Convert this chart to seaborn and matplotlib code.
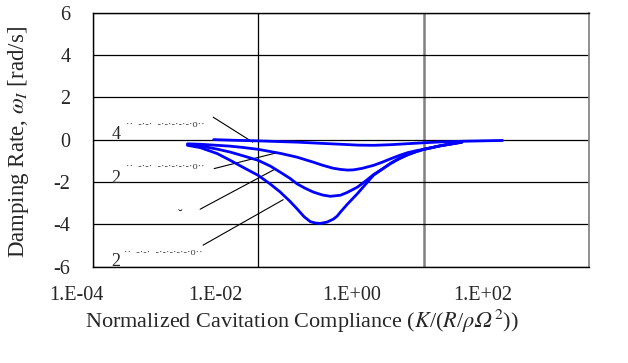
import numpy as np
import pandas as pd
import matplotlib
matplotlib.use("Agg")
import matplotlib.pyplot as plt
import seaborn as sns

# Damping rate curves vs. normalized cavitation compliance
xa = [2.9e-3, 5e-3, 1e-2, 0.0295, 0.06, 0.1, 0.16, 0.25, 0.4, 0.6, 1.0, 1.6, 2.8, 5.0, 9.0]
ya = [0.0, -0.03, -0.06, -0.12, -0.18, -0.22, -0.26, -0.27, -0.24, -0.2, -0.15, -0.11, -0.08, -0.06, -0.04]

xb = [1.4e-3, 2e-3, 3.2e-3, 4.6e-3, 6.5e-3, 1e-2, 0.0185, 0.0295, 0.045, 0.061, 0.08, 0.099, 0.12,
      0.142, 0.18, 0.247, 0.32, 0.397, 0.5, 0.638, 0.8, 1.0, 1.25, 1.6, 2.2, 2.9]
yb = [-0.2, -0.22, -0.27, -0.31, -0.37, -0.46, -0.65, -0.83, -1.05, -1.22, -1.35, -1.41, -1.44,
      -1.43, -1.36, -1.22, -1.06, -0.91, -0.76, -0.62, -0.53, -0.46, -0.38, -0.29, -0.2, -0.12]

xc = [1.4e-3, 2e-3, 3.2e-3, 4.6e-3, 6.5e-3, 1e-2, 0.014, 0.0185, 0.024, 0.0295, 0.037, 0.0464, 0.06,
      0.0746, 0.0986, 0.119, 0.158, 0.2, 0.247, 0.32, 0.397, 0.5, 0.638, 0.8, 1.0, 1.25, 1.6, 2.2, 2.9]
yc = [-0.24, -0.3, -0.45, -0.59, -0.76, -0.98, -1.25, -1.54, -1.82, -2.09, -2.3, -2.48, -2.62,
      -2.68, -2.63, -2.5, -2.25, -1.95, -1.66, -1.38, -1.14, -0.92, -0.72, -0.58, -0.46, -0.38, -0.29, -0.2, -0.12]

xd = [1.4e-3, 2e-3, 3.2e-3, 4.6e-3, 6.5e-3, 1e-2, 0.014, 0.0185, 0.024, 0.0295, 0.036, 0.0428, 0.05,
      0.0565, 0.068, 0.081, 0.09, 0.0986, 0.12, 0.158, 0.2, 0.247, 0.32, 0.397, 0.5, 0.638, 0.8, 1.0,
      1.25, 1.6, 2.2, 2.9]
yd = [-0.27, -0.38, -0.66, -0.98, -1.3, -1.69, -2.1, -2.48, -2.9, -3.27, -3.65, -3.88, -3.95,
      -3.96, -3.9, -3.76, -3.62, -3.43, -3.05, -2.56, -2.1, -1.69, -1.38, -1.12, -0.9, -0.72, -0.58, -0.46,
      -0.38, -0.29, -0.2, -0.12]

x_tick_vals = [1e-4, 1e-2, 1e0, 1e2]
x_tick_labels = ["1.E-04", "1.E-02", "1.E+00", "1.E+02"]
y_ticks = [-6, -4, -2, 0, 2, 4, 6]

frames = []
for name, xs, ys in [("a", xa, ya), ("b", xb, yb), ("c", xc, yc), ("d", xd, yd)]:
    frames.append(pd.DataFrame({"K": xs, "w": ys, "mode": name}))
df = pd.concat(frames, ignore_index=True)

sns.set_style("white")
plt.rcParams["font.family"] = ["Liberation Serif", "DejaVu Serif"]
plt.rcParams["mathtext.fontset"] = "stix"

fig = plt.figure(figsize=(6.28, 3.63), dpi=100)
ax = fig.add_axes([0.1476, 0.2658, 0.7904, 0.6992])

sns.lineplot(data=df, x="K", y="w", hue="mode", units="mode", estimator=None,
             sort=False, palette=["#0000ff"] * 4, linewidth=2.0, legend=False, ax=ax)

ax.set_xscale("log")
ax.set_xlim(1e-4, 1e2)
ax.set_ylim(-6, 6)
ax.set_xticks(x_tick_vals)
ax.set_xticklabels([])
ax.minorticks_off()
ax.set_yticks(y_ticks)
ax.set_yticklabels([str(v) for v in y_ticks], fontsize=14.5)
ax.tick_params(axis="both", length=0)
ax.tick_params(axis="y", pad=16)

ax.grid(True, color="black", linewidth=0.9)
ax.set_axisbelow(True)
for gl, v in zip(ax.get_xgridlines(), ax.get_xticks()):
    if np.isclose(v, 1.0):
        gl.set_color("#808080")
        gl.set_linewidth(1.8)

for s in ["left", "bottom", "top"]:
    ax.spines[s].set_color("black")
    ax.spines[s].set_linewidth(1.0)
ax.spines["right"].set_color("#808080")
ax.spines["right"].set_linewidth(1.2)

# category-style tick labels beneath the axis
for frac, lab in zip([-0.032, 0.2465, 0.5225, 0.7865], x_tick_labels):
    ax.text(frac, -0.113, lab, transform=ax.transAxes, ha="center", va="center", fontsize=14.5)

ax.set_xlabel(r"Normalized Cavitation Compliance ($K$/($R$/$\rho𝛺^2$))", fontsize=16)
ax.xaxis.set_label_coords(0.4217, -0.162)
ax.set_ylabel(r"Damping Rate, $\omega_I$ [rad/s]", fontsize=16.5)
ax.yaxis.set_label_coords(-0.124, 0.49)

# mode labels with leader lines
dots = "··  -·-·  -·-·-·-·-·o··"
for (lx, ly, txt), (dx, dy) in zip(
        [(0.047, 0.52, "4"), (0.047, 0.345, "2"), (0.047, 0.02, "2")],
        [(0.067, 0.561), (0.067, 0.393), (0.063, 0.057)]):
    ax.text(lx, ly, txt, transform=ax.transAxes, ha="center", va="center", fontsize=13)
    ax.text(dx, dy, dots, transform=ax.transAxes, ha="left", va="center",
            fontsize=7.5, color="#444444")
ax.text(0.176, 0.199, "˘", transform=ax.transAxes, ha="center", va="center", fontsize=10)

leaders = [((2.86e-3, 1.06), (8.6e-3, -0.12)),
           ((2.94e-3, -1.37), (0.0161, -0.64)),
           ((1.99e-3, -3.29), (0.0161, -1.39)),
           ((2.16e-3, -4.99), (0.0201, -2.84))]
for (x0, y0), (x1, y1) in leaders:
    ax.plot([x0, x1], [y0, y1], color="black", linewidth=0.8, zorder=1)

fig.savefig("out.png", dpi=100)
